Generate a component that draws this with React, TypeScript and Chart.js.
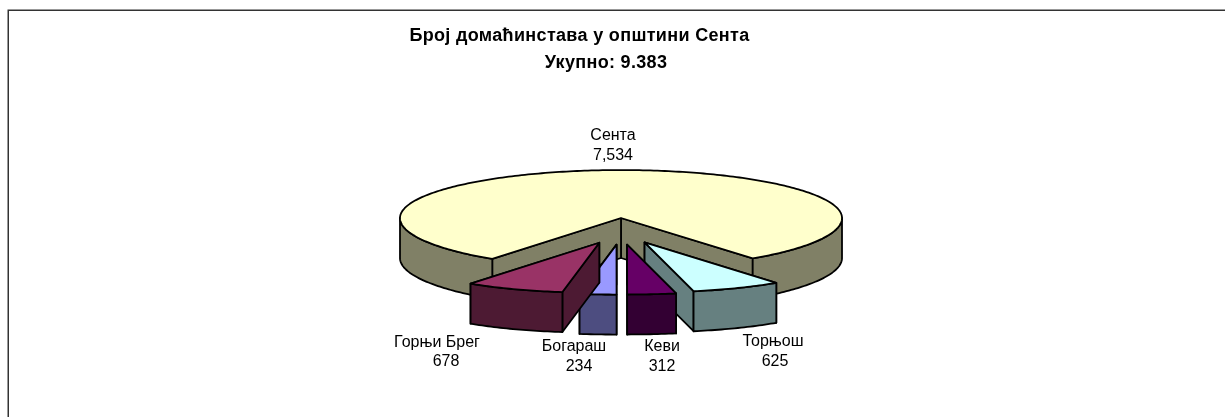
import React, { useEffect, useRef } from "react";
import { Chart, registerables } from "chart.js";

Chart.register(...registerables);

const categories = ["Сента", "Торњош", "Кеви", "Богараш", "Горњи Брег"];
const households = [7534, 625, 312, 234, 678];
const exploded = [0, 58, 58, 58, 58];
const topColors = ["#FFFFCC", "#CCFFFF", "#660066", "#9999FF", "#993366"];
const sideColors = ["#808066", "#668080", "#330033", "#4D4D80", "#4D1A33"];
const titleLines = ["Број домаћинстава у општини Сента", "Укупно: 9.383"];

const FRONT_TILT = 0.226;
const BACK_TILT = 0.217;
const PERSPECTIVE = 0.08;
const EXPLODE_TILT = 0.46;
const DEPTH = 40;
const ROTATION_TRIM = -0.5;
const titlePlacement = [
  { x: 579.5, y: 36 },
  { x: 606, y: 63 },
];
const labelPlacement = [
  { name: [613, 136], value: [613, 156] },
  { name: [773, 342], value: [775, 362] },
  { name: [662, 347], value: [662, 367] },
  { name: [574, 347], value: [579, 367] },
  { name: [437, 343], value: [446, 362] },
];

const pie3d = {
  id: "pie3d",
  beforeDatasetDraw(chart: any, args: any) {
    const ctx = chart.ctx;
    const arcs = args.meta.data;
    ctx.save();
    ctx.lineWidth = 1.8;
    ctx.strokeStyle = "#000";
    ctx.lineJoin = "round";
    arcs.forEach((el: any, i: number) => {
      const { x, y, startAngle, endAngle, outerRadius: r } = el.getProps(
        ["x", "y", "startAngle", "endAngle", "outerRadius"],
        true
      );
      const mid = (startAngle + endAngle) / 2;
      const off = el.options.offset || 0;
      const cx = x + off * Math.cos(mid);
      const cy = y + off * EXPLODE_TILT * Math.sin(mid);
      const px = (a: number) => {
        const s = Math.max(Math.sin(a), 0);
        return cx + r * Math.cos(a) * (1 + PERSPECTIVE * Math.pow(s, 8));
      };
      const py = (a: number) => {
        const s = Math.sin(a);
        return cy + r * (s > 0 ? FRONT_TILT : BACK_TILT) * s;
      };
      const side = sideColors[i];

      const quad = (a: number) => {
        ctx.beginPath();
        ctx.moveTo(cx, cy);
        ctx.lineTo(px(a), py(a));
        ctx.lineTo(px(a), py(a) + DEPTH);
        ctx.lineTo(cx, cy + DEPTH);
        ctx.closePath();
        ctx.fillStyle = side;
        ctx.fill();
        ctx.stroke();
      };
      // the wall further from the viewer is painted first
      const radial = [startAngle, endAngle].sort(
        (a, b) => Math.sin(a) - Math.sin(b)
      );
      radial.forEach(quad);

      // outer wall: only the parts that face the viewer
      for (let n = -2; n <= 2; n++) {
        const a = Math.max(startAngle, 2 * Math.PI * n);
        const b = Math.min(endAngle, 2 * Math.PI * n + Math.PI);
        if (a >= b) continue;
        const steps = Math.max(8, Math.ceil((b - a) * 60));
        ctx.beginPath();
        for (let s = 0; s <= steps; s++) {
          const t = a + ((b - a) * s) / steps;
          if (s === 0) ctx.moveTo(px(t), py(t));
          else ctx.lineTo(px(t), py(t));
        }
        for (let s = steps; s >= 0; s--) {
          const t = a + ((b - a) * s) / steps;
          ctx.lineTo(px(t), py(t) + DEPTH);
        }
        ctx.closePath();
        ctx.fillStyle = side;
        ctx.fill();
        ctx.stroke();
      }

      // top face
      ctx.beginPath();
      ctx.moveTo(cx, cy);
      const steps = Math.max(8, Math.ceil((endAngle - startAngle) * 60));
      for (let s = 0; s <= steps; s++) {
        const t = startAngle + ((endAngle - startAngle) * s) / steps;
        ctx.lineTo(px(t), py(t));
      }
      ctx.closePath();
      ctx.fillStyle = el.options.backgroundColor;
      ctx.fill();
      ctx.stroke();
    });
    ctx.restore();
    return false;
  },
  afterDraw(chart: any) {
    const ctx = chart.ctx;
    ctx.save();
    // frame: top and left rules only
    ctx.strokeStyle = "#333333";
    ctx.lineWidth = 1.5;
    ctx.beginPath();
    ctx.moveTo(8.25, 417);
    ctx.lineTo(8.25, 10.25);
    ctx.lineTo(1225, 10.25);
    ctx.stroke();

    ctx.fillStyle = "#000";
    ctx.textAlign = "center";
    ctx.textBaseline = "middle";
    ctx.font = 'bold 18px "Liberation Sans"';
    ctx.letterSpacing = "0.33px";
    titleLines.forEach((t, i) =>
      ctx.fillText(t, titlePlacement[i].x, titlePlacement[i].y)
    );
    ctx.font = '16px "Liberation Sans"';
    ctx.letterSpacing = "0px";
    categories.forEach((c, i) => {
      const p = labelPlacement[i];
      ctx.fillText(c, p.name[0], p.name[1]);
      ctx.fillText(households[i].toLocaleString("en-US"), p.value[0], p.value[1]);
    });
    ctx.restore();
  },
};

export default function App() {
  const ref = useRef<HTMLCanvasElement>(null);
  useEffect(() => {
    const chart = new Chart(ref.current!, {
      type: "pie",
      data: {
        labels: categories,
        datasets: [
          {
            data: households,
            backgroundColor: topColors,
            offset: exploded,
            radius: 221,
            borderWidth: 0,
          } as any,
        ],
      },
      options: {
        responsive: false,
        animation: false,
        rotation:
          (-households[0] / households.reduce((a, b) => a + b, 0)) * 180 + ROTATION_TRIM,
        layout: { padding: { left: 17, top: 19 } },
        plugins: { legend: { display: false }, tooltip: { enabled: false } },
      },
      plugins: [pie3d],
    } as any);
    return () => chart.destroy();
  }, []);
  return (
    <div style={{ position: "fixed", left: 0, top: 0, width: 1225, height: 417, overflow: "hidden", background: "#fff" }}>
      <canvas ref={ref} width={1225} height={417} style={{ display: "block" }} />
    </div>
  );
}
